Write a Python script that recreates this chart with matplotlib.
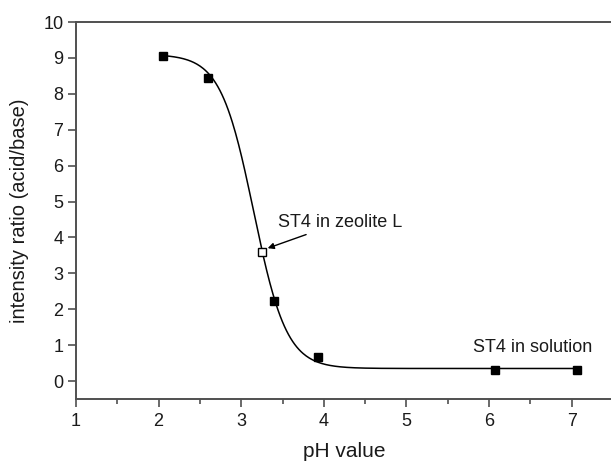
import numpy as np
import matplotlib
matplotlib.use("Agg")
import matplotlib.pyplot as plt
from matplotlib.ticker import MultipleLocator

plt.rcParams['font.family'] = ['Liberation Sans', 'DejaVu Sans']

# measured data points
ph_solution = [2.05, 2.60, 3.40, 3.93, 6.07, 7.07]
ratio_solution = [9.05, 8.45, 2.22, 0.67, 0.30, 0.32]
ph_zeolite = [3.25]
ratio_zeolite = [3.60]

# Boltzmann sigmoidal fit parameters
fit_A1 = 9.10
fit_A2 = 0.35
fit_x0 = 3.15
fit_dx = 0.20
fit_range = (2.05, 7.07)

xticks = [1, 2, 3, 4, 5, 6, 7]
yticks = [0, 1, 2, 3, 4, 5, 6, 7, 8, 9, 10]

fig = plt.figure(figsize=(6.11, 4.61), dpi=100)
ax = fig.add_axes([76/611, 62/461, 537/611, 377/461])

xf = np.linspace(fit_range[0], fit_range[1], 400)
yf = fit_A2 + (fit_A1 - fit_A2) / (1 + np.exp((xf - fit_x0) / fit_dx))
ax.plot(xf, yf, color='black', lw=1.1, zorder=2)

ax.plot(ph_solution, ratio_solution, 's', color='black', ms=6, zorder=3)
ax.plot(ph_zeolite, ratio_zeolite, 's', mfc='white', mec='black', mew=1.0, ms=6, zorder=3)

ax.set_xlim(1, 7.5)
ax.set_ylim(-0.5, 10)
ax.set_xticks(xticks)
ax.set_yticks(yticks)
ax.xaxis.set_minor_locator(MultipleLocator(0.5))

spine_col = '#505050'
for s in ['left', 'bottom', 'top', 'right']:
    ax.spines[s].set_color(spine_col)
    ax.spines[s].set_linewidth(1.4)

ax.tick_params(axis='both', which='major', direction='out', length=6, width=1.2,
               color=spine_col, labelsize=13, labelcolor='#1a1a1a')
ax.tick_params(axis='x', which='minor', direction='out', length=3.5, width=1.2, color=spine_col)
ax.tick_params(axis='x', pad=4)
ax.tick_params(axis='y', pad=3)

ax.set_xlabel('pH value', fontsize=15, color='#1a1a1a', labelpad=9)
ax.set_ylabel('intensity ratio (acid/base)', fontsize=14.5, color='#1a1a1a', labelpad=10)

ax.annotate('ST4 in zeolite L', xy=(3.32, 3.70), xytext=(3.45, 4.42),
            fontsize=13, color='#1a1a1a', va='center', ha='left',
            arrowprops=dict(arrowstyle='-|>', color='black', lw=1.0,
                            mutation_scale=9, shrinkA=2, shrinkB=0))
ax.text(5.81, 0.94, 'ST4 in solution', fontsize=13, color='#1a1a1a',
        va='center', ha='left')

fig.savefig('out.png', dpi=100)
